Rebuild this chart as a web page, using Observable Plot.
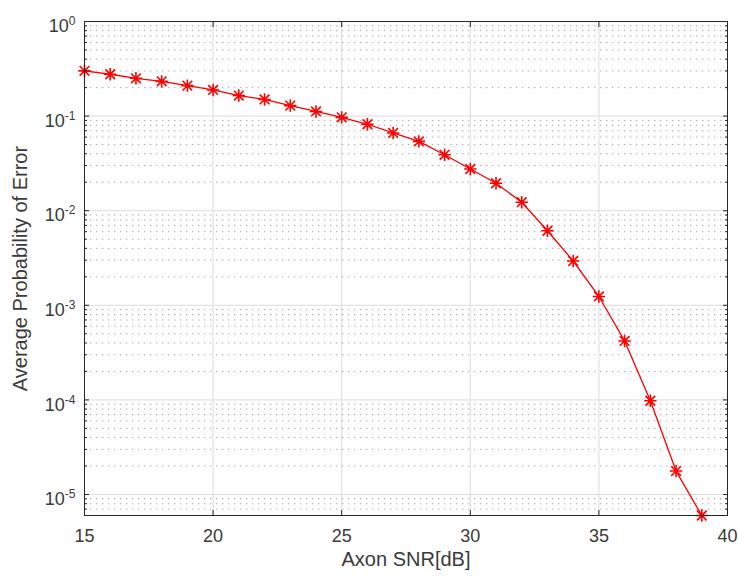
<!DOCTYPE html>
<html>
<head>
<meta charset="utf-8">
<script src="https://cdn.jsdelivr.net/npm/d3@7"></script>
<script src="https://cdn.jsdelivr.net/npm/@observablehq/plot@0.6"></script>
<style>
  body { margin: 0; background: #fff; }
  #chart svg { display: block; }
</style>
</head>
<body>
<div id="chart"></div>
<script>
// ---- data ----
const snr = [15, 16, 17, 18, 19, 20, 21, 22, 23, 24, 25, 26, 27, 28, 29, 30, 31, 32, 33, 34, 35, 36, 37, 38, 39];
const pe = [0.301, 0.277, 0.251, 0.233, 0.210, 0.189, 0.165, 0.150, 0.129, 0.112, 0.097, 0.082, 0.0664, 0.054, 0.039,
            0.0276, 0.0195, 0.0123, 0.00614, 0.00294, 0.00124, 0.00042, 0.000098, 0.0000177, 0.0000060];
const xTicks = [15, 20, 25, 30, 35, 40];
const yTicks = [1e-5, 1e-4, 1e-3, 1e-2, 1e-1, 1];
const xLabel = "Axon SNR[dB]";
const yLabel = "Average Probability of Error";

const yDomain = [6e-6, 1];
const data = snr.map((x, i) => ({x, y: pe[i]}));

// minor log ticks (2..9 × 10^k) inside the domain
const yMinor = [];
for (let k = -6; k <= -1; k++) {
  for (let m = 2; m <= 9; m++) {
    const v = m * Math.pow(10, k);
    if (v >= yDomain[0] * 0.999 && v < yDomain[1]) yMinor.push(v);
  }
}

// MATLAB-like '*' marker: plus + times
const star8 = {
  draw(ctx, size) {
    const r = Math.sqrt(size / Math.PI);
    const d = r * 0.78;
    ctx.moveTo(0, -r); ctx.lineTo(0, r);
    ctx.moveTo(-r, 0); ctx.lineTo(r, 0);
    ctx.moveTo(-d, -d); ctx.lineTo(d, d);
    ctx.moveTo(-d, d); ctx.lineTo(d, -d);
  }
};

const ink = "#262626";
const textInk = "#3a3a3a";
const fontFamily = "'Liberation Sans', Arial, Helvetica, sans-serif";

const chart = Plot.plot({
  width: 739,
  height: 577,
  marginLeft: 84,
  marginRight: 12,
  marginTop: 21,
  marginBottom: 62,
  style: {fontFamily, background: "#fff", color: ink, overflow: "visible"},
  x: {domain: [15, 40]},
  y: {type: "log", domain: yDomain},
  marks: [
    // minor dotted grid
    Plot.ruleY(yMinor, {stroke: "#a8a8a8", strokeWidth: 1, strokeDasharray: "1.3,4.7"}),
    // major grid
    Plot.ruleY(yTicks.filter(v => v > yDomain[0] && v < yDomain[1]), {stroke: "#dcdcdc", strokeWidth: 1}),
    Plot.ruleX(xTicks.slice(1, -1), {stroke: "#dcdcdc", strokeWidth: 1}),
    // series
    Plot.line(data, {x: "x", y: "y", stroke: "#ff0000", strokeWidth: 1.3}),
    Plot.dot(data, {x: "x", y: "y", symbol: star8, r: 6.2, stroke: "#ff0000", strokeWidth: 1.6, fill: "none"}),
    // box
    Plot.frame({stroke: ink, strokeWidth: 1}),
    // inward tick marks
    Plot.axisX({anchor: "bottom", ticks: xTicks, tickSize: -5, tickFormat: () => "", label: null, stroke: ink}),
    Plot.axisX({anchor: "top", ticks: xTicks, tickSize: -5, tickFormat: () => "", label: null, stroke: ink}),
    Plot.axisY({anchor: "left", ticks: yTicks, tickSize: -5, tickFormat: () => "", label: null, stroke: ink}),
    Plot.axisY({anchor: "right", ticks: yTicks, tickSize: -5, tickFormat: () => "", label: null, stroke: ink}),
    Plot.axisY({anchor: "left", ticks: yMinor, tickSize: -3, tickFormat: () => "", label: null, stroke: ink}),
    Plot.axisY({anchor: "right", ticks: yMinor, tickSize: -3, tickFormat: () => "", label: null, stroke: ink}),
    // tick labels
    Plot.axisX({anchor: "bottom", ticks: xTicks, tickSize: 0, tickPadding: 14, fontSize: 18, label: null,
                tickFormat: d => String(d), fill: textInk}),
    Plot.axisY({anchor: "left", ticks: yTicks, tickSize: 0, tickPadding: 9, fontSize: 18, label: null,
                tickFormat: d => "10^" + Math.round(Math.log10(d)), dy: 5, fill: textInk}),
    // axis titles
    Plot.text([xLabel], {text: d => d, frameAnchor: "bottom", textAnchor: "middle", dy: 50, fontSize: 20, fill: textInk}),
    Plot.text([yLabel], {text: d => d, frameAnchor: "left", textAnchor: "middle", rotate: -90, dx: -64, fontSize: 20, fill: textInk})
  ]
});

// turn "10^k" tick labels into 10 with a superscript exponent
chart.querySelectorAll('[aria-label="y-axis tick label"] text').forEach(t => {
  const s = t.textContent;
  if (!s.startsWith("10^")) return;
  const exp = s.slice(3);
  t.textContent = "";
  const base = document.createElementNS("http://www.w3.org/2000/svg", "tspan");
  base.textContent = "10";
  const sup = document.createElementNS("http://www.w3.org/2000/svg", "tspan");
  sup.textContent = exp;
  sup.setAttribute("dy", "-7");
  sup.setAttribute("font-size", "12");
  t.appendChild(base);
  t.appendChild(sup);
});

document.getElementById("chart").appendChild(chart);
</script>
</body>
</html>
